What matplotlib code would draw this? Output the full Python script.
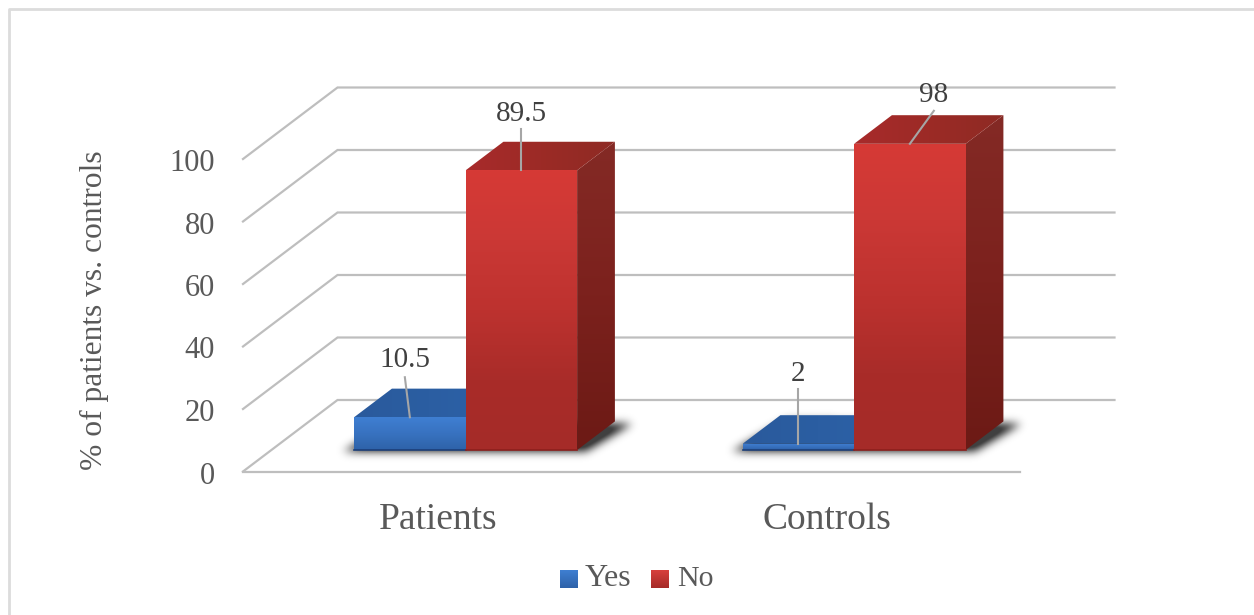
import numpy as np
import matplotlib
matplotlib.use("Agg")
import matplotlib.pyplot as plt
from matplotlib.colors import LinearSegmentedColormap
from matplotlib.patches import Polygon
from matplotlib.path import Path
from matplotlib.transforms import IdentityTransform

plt.rcParams["font.family"] = ["Liberation Serif", "DejaVu Serif"]

# Chart values
categories = ["Patients", "Controls"]
series_names = ["Yes", "No"]
yes_values = [10.5, 2]
no_values = [89.5, 98]
y_ticks = [0, 20, 40, 60, 80, 100]
y_label = "% of patients vs. controls"

W, H = 1254, 615
fig = plt.figure(figsize=(W / 100, H / 100), dpi=100, facecolor="white")


def rect_px(x0, y_top, x1, y_bottom):
    return [x0 / W, 1 - y_bottom / H, (x1 - x0) / W, (y_bottom - y_top) / H]


# The axes rectangle is the front edge of the floor and the 0-100 height
ax = fig.add_axes(rect_px(243, 159, 1020, 471.5))
ax.set_xlim(-0.5, 1.5)
ax.set_ylim(0, 100)
ax.patch.set_alpha(0)
for s in ax.spines.values():
    s.set_visible(False)
ax.set_xticks([])
ax.set_yticks([])

DEPTH_X, DEPTH_Y = 94.5, 71.5   # screen offset of the full chart depth
BAR_NEAR, BAR_FAR = 0.30, 0.70  # bar position along the depth
BAR_W = 0.287                   # bar width in category units
pix = IdentityTransform()
GRID = "#bebebe"
TEXT = "#595959"


def proj(x, y, d):
    """Data position plus depth fraction to display pixels."""
    px, py = ax.transData.transform((x, y))
    return px + DEPTH_X * d, py + DEPTH_Y * d


def gradient_poly(points, stops, z, horizontal=False):
    """Fill a pixel-space polygon with a linear gradient."""
    pts = np.array(points)
    x0, y0 = pts.min(axis=0)
    x1, y1 = pts.max(axis=0)
    cmap = LinearSegmentedColormap.from_list("shade", stops)
    grad = np.linspace(0, 1, 256)
    grad = grad[None, :] if horizontal else grad[:, None]
    im = ax.imshow(grad, cmap=cmap, origin="upper", aspect="auto",
                   extent=(x0, x1, y0, y1), transform=pix, zorder=z,
                   interpolation="bilinear")
    im.set_clip_path(Polygon(pts, closed=True, transform=pix))
    im.set_clip_box(fig.bbox)
    return im


def soft_shadow(x0, x1, z):
    """Blurred dark footprint on the floor, built on a pixel grid."""
    a, b, c, d = (proj(x0, 0, BAR_NEAR), proj(x1, 0, BAR_NEAR),
                  proj(x1, 0, BAR_FAR), proj(x0, 0, BAR_FAR))
    foot = [(a[0] - 10, a[1] - 1), (b[0] + 8, b[1] - 2), (c[0] + 18, c[1] - 2), (d[0] + 6, d[1] + 1)]
    xs = np.arange(a[0] - 40, c[0] + 50)
    ys = np.arange(a[1] - 20, c[1] + 25)
    gx, gy = np.meshgrid(xs, ys)
    mask = Path(foot).contains_points(np.c_[gx.ravel(), gy.ravel()]).reshape(gx.shape).astype(float)
    kernel = np.exp(-0.5 * (np.arange(-14, 15) / 4.5) ** 2)
    kernel /= kernel.sum()
    mask = np.apply_along_axis(lambda r: np.convolve(r, kernel, mode="same"), 0, mask)
    mask = np.apply_along_axis(lambda r: np.convolve(r, kernel, mode="same"), 1, mask)
    rgba = np.zeros(mask.shape + (4,))
    rgba[..., 3] = np.clip(mask * 0.95, 0, 0.75)
    im = ax.imshow(rgba, origin="lower", aspect="auto", transform=pix, zorder=z,
                   extent=(xs[0], xs[-1], ys[0], ys[-1]), interpolation="bilinear")
    im.set_clip_box(fig.bbox)


def bar3d(x0, x1, value, front, side, top, seam, z):
    fl, fr = proj(x0, 0, BAR_NEAR), proj(x1, 0, BAR_NEAR)
    tl, tr = proj(x0, value, BAR_NEAR), proj(x1, value, BAR_NEAR)
    br_far, tr_far = proj(x1, 0, BAR_FAR), proj(x1, value, BAR_FAR)
    tl_far = proj(x0, value, BAR_FAR)
    gradient_poly([fr, br_far, tr_far, tr], side, z)
    gradient_poly([tl, tr, tr_far, tl_far], top, z + 0.1, horizontal=True)
    gradient_poly([fl, fr, tr, tl], front, z + 0.2)
    ax.plot([fl[0], fr[0]], [fl[1], fr[1]], transform=pix, color=seam, lw=1.2,
            zorder=z + 0.3, clip_on=False)


# Walls: gridlines on the back wall joined to slanted lines on the side wall
for v in y_ticks:
    a, b, c = proj(-0.5, v, 0), proj(-0.5, v, 1), proj(1.5, v, 1)
    ax.plot([a[0], b[0], c[0]], [a[1], b[1], c[1]], transform=pix, color=GRID,
            lw=1.6, solid_joinstyle="miter", zorder=1, clip_on=False)

# Floor front edge
a, b = proj(-0.5, 0, 0), proj(1.5, 0, 0)
ax.plot([a[0], b[0]], [a[1], b[1]], transform=pix, color=GRID, lw=1.6, zorder=1, clip_on=False)

BLUE_FRONT = ["#3f7fd2", "#3872c0", "#2e62a8"]
BLUE_TOP = ["#2a5a9c", "#2c62a8"]
RED_FRONT = ["#d63a36", "#cb3835", "#bd322f", "#a92c29", "#a52b28"]
RED_SIDE = ["#842a25", "#7c211d", "#6c1a15"]
RED_TOP = ["#a82a2b", "#9c2b26", "#8e2a24"]

for i in range(len(categories)):
    soft_shadow(i - BAR_W, i + BAR_W, 2)
    bar3d(i - BAR_W, i, yes_values[i], BLUE_FRONT, ["#2a5a9c", "#2a5a9c"], BLUE_TOP, "#1d3f78", 3)
    bar3d(i, i + BAR_W, no_values[i], RED_FRONT, RED_SIDE, RED_TOP, "#8c1f1c", 5)

# Value labels: anchor on the bar, leader offset, label offset above the leader end
leaders = [
    (-BAR_W / 2, yes_values[0], -5, 40, 20),
    (BAR_W / 2, no_values[0], 0, 41, 18),
    (1 - BAR_W / 2, yes_values[1], 0, 55, 18),
    (1 + BAR_W / 2, no_values[1], 24, 33, 19),
]
for x, y, ox, oy, gap in leaders:
    px, py = proj(x, y, BAR_NEAR)
    ax.plot([px, px + ox], [py, py + oy], transform=pix, color="#a6a6a6",
            lw=1.5, zorder=8, clip_on=False)
    ax.text(px + ox, py + oy + gap, f"{y:g}", transform=pix, ha="center", va="center_baseline",
            fontsize=21, color="#404040", zorder=9, clip_on=False)

# Tick labels, set to the left of the slanted wall lines
for v in y_ticks:
    px, py = proj(-0.5, v, 0)
    ax.text(px - 28, py - 1, str(v), transform=pix, ha="right", va="center_baseline",
            fontsize=22, color=TEXT, clip_on=False)

for i, c in enumerate(categories):
    px, py = proj(i, 0, 0)
    ax.text(px + 1, py - 44, c, transform=pix, ha="center", va="center_baseline",
            fontsize=27, color=TEXT, clip_on=False)

fig.text(94 / W, 1 - 310 / H, y_label, rotation=90, ha="center", va="center",
         fontsize=22.7, color=TEXT)

# Legend swatches and entries
for x0, stops in [(560, ["#3f7fd2", "#2e62a8"]), (651, ["#d8403c", "#a52b28"])]:
    y_top, y_bot = H - 570, H - 588
    gradient_poly([(x0, y_bot), (x0 + 18, y_bot), (x0 + 18, y_top), (x0, y_top)], stops, 6)
fig.text(585 / W, 1 - 579 / H, series_names[0], ha="left", va="center", fontsize=23, color=TEXT)
fig.text(677 / W, 1 - 579 / H, series_names[1], ha="left", va="center", fontsize=21.5, color=TEXT)

# Frame of the chart area, open on the right and at the bottom
fig.add_artist(plt.Line2D([8.5 / W, 8.5 / W, 1], [0, 1 - 8.5 / H, 1 - 8.5 / H],
                          color="#dcdcdc", lw=2, transform=fig.transFigure))

ax.set_xlim(-0.5, 1.5)
ax.set_ylim(0, 100)
fig.savefig("out.png", dpi=100, facecolor="white")
